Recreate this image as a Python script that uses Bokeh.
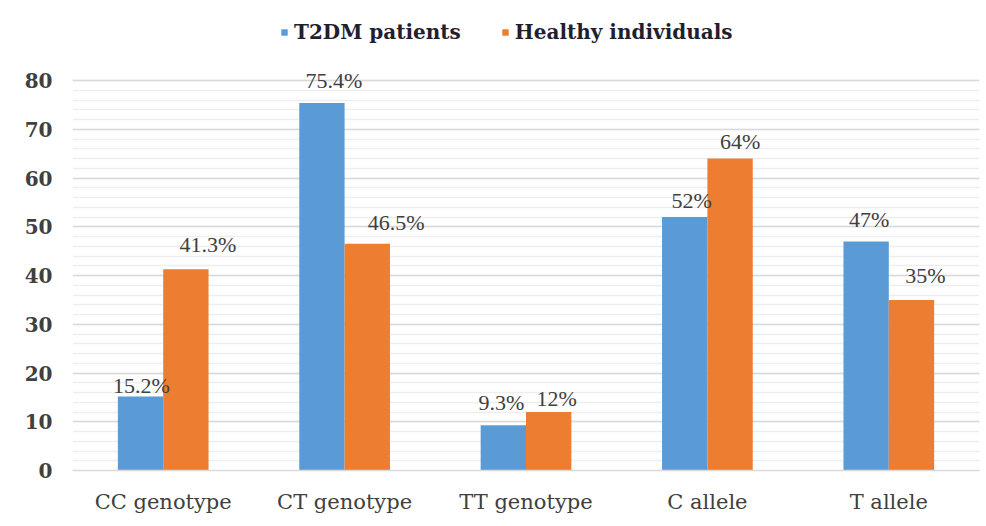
from bokeh.plotting import figure
from bokeh.models import (FactorRange, Range1d, FixedTicker, Legend, LegendItem,
                          LabelSet, ColumnDataSource)
from bokeh.transform import dodge
from bokeh.embed import file_html
from bokeh.resources import INLINE

# ---- data ----
categories = ["CC genotype", "CT genotype", "TT genotype", "C allele", "T allele"]
t2dm = [15.2, 75.4, 9.3, 52, 47]
healthy = [41.3, 46.5, 12, 64, 35]
t2dm_labels = ["15.2%", "75.4%", "9.3%", "52%", "47%"]
healthy_labels = ["41.3%", "46.5%", "12%", "64%", "35%"]
series_names = ["T2DM patients", "Healthy individuals"]
y_ticks = [0, 10, 20, 30, 40, 50, 60, 70, 80]

# ---- layout nudges for the data labels (pixels) ----
t2dm_dx = [1, 12, -2, 7, 3]
t2dm_dy = [11, 22, 23, 17, 22]
healthy_dx = [22, 29, 8, 10, 14]
healthy_dy = [25, 21, 14, 17, 24]

BLUE = "#5B9BD5"
ORANGE = "#ED7D31"
FONT = "DejaVu Serif"

src = ColumnDataSource(dict(
    cat=categories, t2dm=t2dm, healthy=healthy,
    t2dm_lab=t2dm_labels, healthy_lab=healthy_labels,
    t2dm_dx=t2dm_dx, t2dm_dy=t2dm_dy, healthy_dx=healthy_dx, healthy_dy=healthy_dy,
))

# frame: value 80 at y=80px, 0 at y=470px; frame extends up to y=10px for legend/labels
y_top = 80 + 70 / 4.875

p = figure(width=982, height=520, x_range=FactorRange(factors=categories, range_padding=0),
           y_range=Range1d(0, y_top), output_backend="svg", toolbar_location=None,
           min_border_left=72, min_border_right=3, min_border_top=10, min_border_bottom=50)
p.outline_line_color = None
p.background_fill_color = "white"

r1 = p.vbar(x=dodge("cat", -0.125, range=p.x_range), top="t2dm", width=0.25, source=src,
            fill_color=BLUE, line_color=None)
r2 = p.vbar(x=dodge("cat", 0.125, range=p.x_range), top="healthy", width=0.25, source=src,
            fill_color=ORANGE, line_color=None)

l1 = LabelSet(x=dodge("cat", -0.125, range=p.x_range), y="t2dm", text="t2dm_lab",
              x_offset="t2dm_dx", y_offset="t2dm_dy", source=src,
              text_align="center", text_baseline="middle", text_font=FONT,
              text_font_size="22px", text_color="#404040")
l2 = LabelSet(x=dodge("cat", 0.125, range=p.x_range), y="healthy", text="healthy_lab",
              x_offset="healthy_dx", y_offset="healthy_dy", source=src,
              text_align="center", text_baseline="middle", text_font=FONT,
              text_font_size="22px", text_color="#404040")
p.add_layout(l1)
p.add_layout(l2)

# y axis
p.yaxis.ticker = FixedTicker(ticks=y_ticks, minor_ticks=list(range(0, 81, 2)))
p.yaxis.axis_line_color = None
p.yaxis.major_tick_line_color = None
p.yaxis.minor_tick_line_color = None
p.yaxis.major_tick_out = 0
p.yaxis.major_tick_in = 0
p.yaxis.minor_tick_out = 0
p.yaxis.major_label_standoff = 20
p.yaxis.major_label_text_font = FONT
p.yaxis.major_label_text_font_size = "20px"
p.yaxis.major_label_text_font_style = "bold"
p.yaxis.major_label_text_color = "#404040"

# x axis
p.xaxis.axis_line_color = "#d9d9d9"
p.xaxis.axis_line_width = 1.5
p.xaxis.major_tick_line_color = None
p.xaxis.major_tick_out = 0
p.xaxis.major_tick_in = 0
p.xaxis.major_label_standoff = 19
p.xaxis.major_label_text_font = FONT
p.xaxis.major_label_text_font_size = "21px"
p.xaxis.major_label_text_color = "#404040"

# grid
p.xgrid.grid_line_color = None
p.ygrid.grid_line_color = "#d9d9d9"
p.ygrid.grid_line_width = 1.5
p.ygrid.minor_grid_line_color = "#eeeeee"
p.ygrid.minor_grid_line_width = 1.5

legend = Legend(items=[LegendItem(label=series_names[0], renderers=[r1]),
                       LegendItem(label=series_names[1], renderers=[r2])],
                orientation="horizontal", location=(208, 426),
                label_text_font=FONT, label_text_font_size="20px",
                label_text_font_style="bold", label_text_color="#1f1f2e",
                glyph_width=8, glyph_height=8, label_standoff=6, spacing=40,
                padding=0, margin=0, border_line_color=None,
                background_fill_alpha=0)
p.add_layout(legend, "center")

open("out.html", "w").write(file_html(p, INLINE))
